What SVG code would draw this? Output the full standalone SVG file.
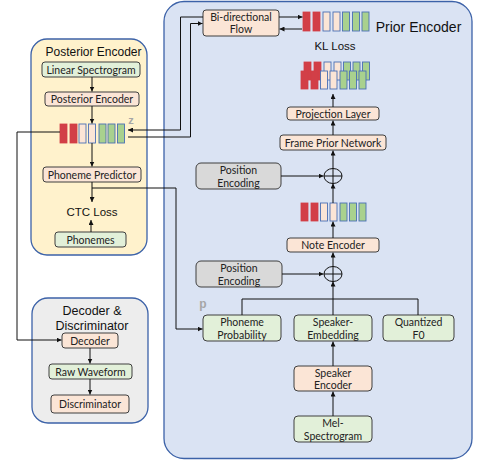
<svg xmlns="http://www.w3.org/2000/svg" width="485" height="460" viewBox="0 0 485 460">
<style>
.cont{stroke:#3C62A8;stroke-width:1.3}
.box{stroke:#3F3F3F;stroke-width:1}
.g{fill:#E2F0D9}
.p{fill:#FBE5D6}
.gr{fill:#D9D9D9}
.lbl{font-family:Lato,"Liberation Sans",sans-serif;font-size:10.5px;fill:#222;text-anchor:middle}
.ttl{font-family:"Liberation Sans",Arial,sans-serif;fill:#111}
.ln{fill:none;stroke:#111;stroke-width:1}
.br{fill:#D23F47;stroke:#D23F47;stroke-width:0.8}
.bp{fill:#FBE5D6;stroke:#4A6FB5;stroke-width:0.9}
.bg{fill:#A9D18E;stroke:#4A6FB5;stroke-width:0.9}
.lt{font-family:"Liberation Sans",Arial,sans-serif;font-weight:bold;fill:#A6A6A6}
</style>
<defs>
<marker id="ah" markerWidth="5" markerHeight="5" refX="5" refY="2.5" orient="auto" markerUnits="userSpaceOnUse">
<path d="M0,0 L5,2.5 L0,5 z" fill="#111"/>
</marker>
</defs>

<rect width="485" height="460" fill="#fff"/>

<!-- containers -->
<g id="prior-encoder">
<rect class="cont" x="164" y="1.5" width="308" height="457" rx="20" fill="#DAE3F3"/>
<text class="ttl" x="418.5" y="32" font-size="14" text-anchor="middle">Prior Encoder</text>
</g>
<g id="posterior-encoder-group">
<rect class="cont" x="31" y="39" width="116" height="216" rx="16" fill="#FFF2CC"/>
<text class="ttl" x="93.5" y="56" font-size="12" text-anchor="middle">Posterior Encoder</text>
</g>
<g id="decoder-discriminator">
<rect class="cont" x="32" y="298" width="116" height="125" rx="16" fill="#EDEDED"/>
<text class="ttl" x="92" y="315" font-size="12.5" text-anchor="middle">Decoder &amp;</text>
<text class="ttl" x="92" y="330" font-size="12.5" text-anchor="middle">Discriminator</text>
</g>

<!-- posterior nodes -->
<g id="linear-spectrogram"><rect class="box g" x="42" y="62" width="98" height="15" rx="3"/><text class="lbl" x="91" y="73.5">Linear Spectrogram</text></g>
<g id="posterior-encoder"><rect class="box p" x="45" y="92" width="94" height="14" rx="3"/><text class="lbl" x="92" y="103">Posterior Encoder</text></g>
<g id="z-vector">
<rect class="br" x="60" y="124" width="7" height="19"/>
<rect class="br" x="70" y="124" width="7" height="19"/>
<rect class="bp" x="79" y="124" width="7" height="19"/>
<rect class="bp" x="88.5" y="124" width="7" height="19"/>
<rect class="bg" x="99" y="124" width="7" height="19"/>
<rect class="bg" x="108" y="124" width="7" height="19"/>
<rect class="bg" x="117.5" y="124" width="7" height="19"/>
<text class="lt" x="131" y="124" font-size="11" text-anchor="middle">z</text>
</g>
<g id="phoneme-predictor"><rect class="box p" x="43" y="167" width="98" height="15" rx="3"/><text class="lbl" x="92" y="178.5">Phoneme Predictor</text></g>
<g id="ctc-loss"><text class="ttl" x="92" y="216" font-size="11.5" text-anchor="middle">CTC Loss</text></g>
<g id="phonemes"><rect class="box g" x="55" y="232" width="71" height="15" rx="3"/><text class="lbl" x="90.5" y="243.5">Phonemes</text></g>

<!-- decoder nodes -->
<g id="decoder"><rect class="box p" x="62" y="333" width="56" height="15" rx="3"/><text class="lbl" x="90" y="344.5">Decoder</text></g>
<g id="raw-waveform"><rect class="box g" x="49" y="364" width="83" height="15" rx="3"/><text class="lbl" x="90.5" y="375.5">Raw Waveform</text></g>
<g id="discriminator"><rect class="box p" x="51" y="395" width="78" height="18" rx="3"/><text class="lbl" x="90" y="408">Discriminator</text></g>

<!-- prior nodes -->
<g id="bidirectional-flow"><rect class="box p" x="203" y="10" width="76" height="26" rx="3"/><text class="lbl" x="241" y="21">Bi-directional</text><text class="lbl" x="241" y="33">Flow</text></g>
<g id="flow-vector">
<rect class="br" x="303" y="12" width="7" height="19"/>
<rect class="br" x="313" y="12" width="7" height="19"/>
<rect class="bp" x="323" y="12" width="7" height="19"/>
<rect class="bp" x="333" y="12" width="7" height="19"/>
<rect class="bg" x="342.5" y="12" width="7" height="19"/>
<rect class="bg" x="352.5" y="12" width="7" height="19"/>
<rect class="bg" x="362" y="12" width="7" height="19"/>
</g>
<g id="kl-loss"><text class="ttl" x="335" y="50" font-size="11.5" text-anchor="middle">KL Loss</text></g>
<g id="prior-stats">
<rect class="br" x="304" y="62" width="7" height="18"/>
<rect class="br" x="314" y="62" width="7" height="18"/>
<rect class="bp" x="324" y="62" width="7" height="18"/>
<rect class="bp" x="334" y="62" width="7" height="18"/>
<rect class="bg" x="343.5" y="62" width="7" height="18"/>
<rect class="bg" x="353" y="62" width="7" height="18"/>
<rect class="bg" x="362.5" y="62" width="7" height="18"/>
<rect class="br" x="301" y="71" width="7" height="18"/>
<rect class="br" x="311" y="71" width="7" height="18"/>
<rect class="bp" x="320.5" y="71" width="7" height="18"/>
<rect class="bp" x="330" y="71" width="7" height="18"/>
<rect class="bg" x="340" y="71" width="7" height="18"/>
<rect class="bg" x="349.5" y="71" width="7" height="18"/>
<rect class="bg" x="359" y="71" width="7" height="18"/>
</g>
<g id="projection-layer"><rect class="box p" x="287" y="107" width="92" height="13" rx="3"/><text class="lbl" x="333" y="117.5">Projection Layer</text></g>
<g id="frame-prior-network"><rect class="box p" x="280" y="135" width="106" height="15" rx="3"/><text class="lbl" x="333" y="146.5">Frame Prior Network</text></g>
<g id="position-encoding-1"><rect class="box gr" x="196" y="163" width="85" height="26" rx="5"/><text class="lbl" x="238.5" y="174">Position</text><text class="lbl" x="238.5" y="187">Encoding</text></g>
<g id="add-1"><ellipse cx="333" cy="176" rx="9" ry="7.5" fill="none" stroke="#111" stroke-width="1"/><path class="ln" d="M324,176 H342 M333,168.5 V183.5"/></g>
<g id="note-vector">
<rect class="br" x="301" y="203" width="7" height="18"/>
<rect class="br" x="311" y="203" width="7" height="18"/>
<rect class="bp" x="320.5" y="203" width="7" height="18"/>
<rect class="bp" x="330" y="203" width="7" height="18"/>
<rect class="bg" x="340" y="203" width="7" height="18"/>
<rect class="bg" x="349.5" y="203" width="7" height="18"/>
<rect class="bg" x="359" y="203" width="7" height="18"/>
</g>
<g id="note-encoder"><rect class="box p" x="287" y="238" width="92" height="14" rx="3"/><text class="lbl" x="333" y="249">Note Encoder</text></g>
<g id="position-encoding-2"><rect class="box gr" x="196" y="261" width="86" height="26" rx="5"/><text class="lbl" x="239" y="272">Position</text><text class="lbl" x="239" y="285">Encoding</text></g>
<g id="add-2"><ellipse cx="333" cy="274" rx="9" ry="7.5" fill="none" stroke="#111" stroke-width="1"/><path class="ln" d="M324,274 H342 M333,266.5 V281.5"/></g>
<g id="p-label"><text class="lt" x="203" y="308" font-size="12" text-anchor="middle">p</text></g>
<g id="phoneme-probability"><rect class="box g" x="203" y="315" width="78" height="26" rx="4"/><text class="lbl" x="242" y="326">Phoneme</text><text class="lbl" x="242" y="339">Probability</text></g>
<g id="speaker-embedding"><rect class="box g" x="294" y="315" width="78" height="26" rx="4"/><text class="lbl" x="333" y="326">Speaker-</text><text class="lbl" x="333" y="339">Embedding</text></g>
<g id="quantized-f0"><rect class="box g" x="383" y="315" width="71" height="26" rx="4"/><text class="lbl" x="418.5" y="326">Quantized</text><text class="lbl" x="418.5" y="339">F0</text></g>
<g id="speaker-encoder"><rect class="box p" x="294" y="366" width="78" height="25" rx="4"/><text class="lbl" x="333" y="377">Speaker</text><text class="lbl" x="333" y="389">Encoder</text></g>
<g id="mel-spectrogram"><rect class="box g" x="294" y="416" width="78" height="26" rx="4"/><text class="lbl" x="333" y="427">Mel-</text><text class="lbl" x="333" y="440">Spectrogram</text></g>

<!-- connectors -->
<g id="connectors">
<path class="ln" d="M92,77 V91.5" marker-end="url(#ah)"/>
<path class="ln" d="M92,106 V123.5" marker-end="url(#ah)"/>
<path class="ln" d="M92,143 V166.5" marker-end="url(#ah)"/>
<path class="ln" d="M92,182 V202" marker-end="url(#ah)"/>
<path class="ln" d="M91,232 V220" marker-end="url(#ah)"/>
<path class="ln" d="M92,188 H176 V329 H202.5" marker-end="url(#ah)"/>
<path class="ln" d="M60,132 H17 V340 H61.5" marker-end="url(#ah)"/>
<path class="ln" d="M90,348 V363.5" marker-end="url(#ah)"/>
<path class="ln" d="M90,379 V394.5" marker-end="url(#ah)"/>
<path class="ln" d="M203,17 H180.5 V130 H128" marker-end="url(#ah)"/>
<path class="ln" d="M128,137 H190.5 V23.5 H202.5" marker-end="url(#ah)"/>
<path class="ln" d="M279,17 H302.5" marker-end="url(#ah)"/>
<path class="ln" d="M302,29 H279.5" marker-end="url(#ah)"/>
<path class="ln" d="M333,107 V94" marker-end="url(#ah)"/>
<path class="ln" d="M333,135 V120.5" marker-end="url(#ah)"/>
<path class="ln" d="M333,168.5 V150.5" marker-end="url(#ah)"/>
<path class="ln" d="M281,176 H323.5" marker-end="url(#ah)"/>
<path class="ln" d="M333,203 V183.5" marker-end="url(#ah)"/>
<path class="ln" d="M333,238 V221.5" marker-end="url(#ah)"/>
<path class="ln" d="M333,266.5 V252.5" marker-end="url(#ah)"/>
<path class="ln" d="M282,274 H323.5" marker-end="url(#ah)"/>
<path class="ln" d="M242,315 V299 H418 V315"/>
<path class="ln" d="M333,315 V281.5" marker-end="url(#ah)"/>
<path class="ln" d="M333,366 V341.5" marker-end="url(#ah)"/>
<path class="ln" d="M333,416 V391.5" marker-end="url(#ah)"/>
</g>
</svg>
